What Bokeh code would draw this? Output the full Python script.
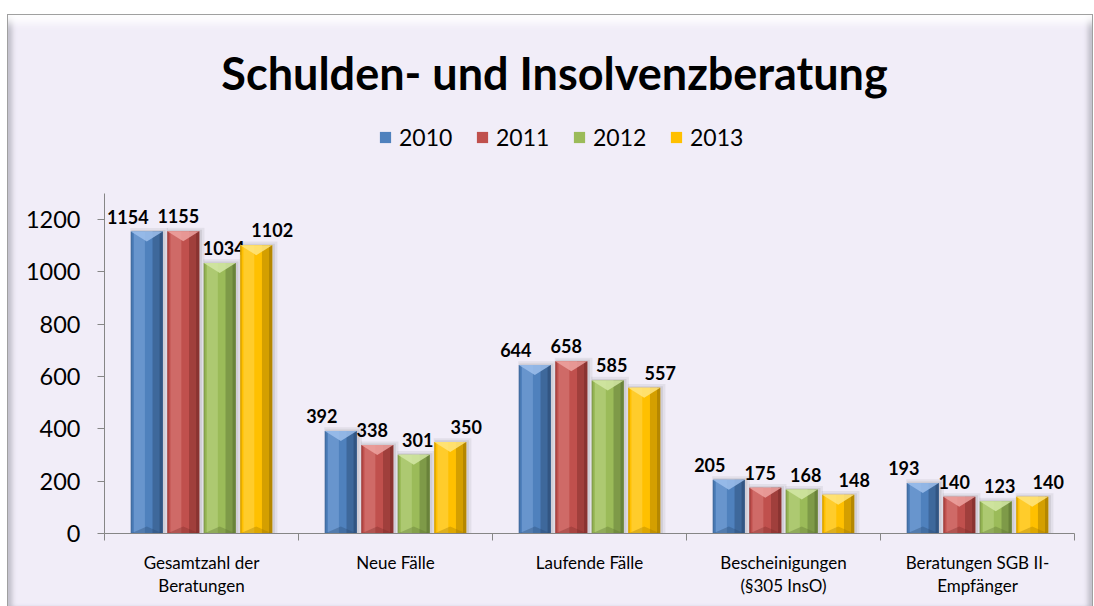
from bokeh.plotting import figure
from bokeh.models import FixedTicker, Label, Legend, LegendItem, Spacer, Range1d
from bokeh.layouts import column, row
from bokeh.embed import file_html
from bokeh.resources import INLINE
from bokeh.core.properties import value

# ---------------- data ----------------
categories = ["Gesamtzahl der\nBeratungen", "Neue Fälle", "Laufende Fälle",
              "Bescheinigungen\n(§305 InsO)", "Beratungen SGB II-\nEmpfänger"]
years = ["2010", "2011", "2012", "2013"]
v2010 = [1154, 392, 644, 205, 193]
v2011 = [1155, 338, 658, 175, 140]
v2012 = [1034, 301, 585, 168, 123]
v2013 = [1102, 350, 557, 148, 140]
y_ticks = [0, 200, 400, 600, 800, 1000, 1200]
chart_title = "Schulden- und Insolvenzberatung"

series = [v2010, v2011, v2012, v2013]

# ---------------- styles ----------------
main_c = ["#4F81BD", "#C0504D", "#9BBB59", "#FFC000"]
light_c = ["#7EA6DA", "#DA807D", "#BCD685", "#FFD54F"]
dark_c = ["#2B4A72", "#7A2B29", "#5C7332", "#A07800"]
top_c = ["#9DC0EC", "#EDA3A1", "#D3E8A6", "#FFE580"]
label_dx = [-19, -5, 4, 16]
BG = "#F1EDF8"
FONT = "Lato"
SLOT = 0.188
W = 0.165

p = figure(width=1084, height=591, output_backend="svg", toolbar_location=None,
           x_range=Range1d(0, len(categories)), y_range=Range1d(0, 1980),
           min_border_left=96, min_border_right=18, min_border_top=0,
           min_border_bottom=73)
p.background_fill_color = None
p.border_fill_color = None
p.outline_line_color = None
p.xgrid.visible = False
p.ygrid.visible = False
p.styles = {
    "background-color": BG,
    "box-shadow": ("0 0 0 1px #A0A0A0, "
                   "inset 0 14px 9px -6px rgba(255,255,255,0.95), "
                   "inset 7px 0 5px -3px rgba(150,150,160,0.55), "
                   "inset -7px 0 5px -3px rgba(150,150,160,0.55)"),
}

px_per_unit = 518 / 1980.0
bevel_h = 10 / px_per_unit
bottom_h = 7 / px_per_unit

legend_items = []
for k, vals in enumerate(series):
    xs = [i + 0.5 + (k - 1.5) * SLOT for i in range(len(categories))]
    # soft shadow
    p.vbar(x=[x + 0.012 for x in xs], top=[v + 14 for v in vals], width=W + 0.03,
           fill_color="black", fill_alpha=0.06, line_color=None)
    p.vbar(x=[x + 0.008 for x in xs], top=[v + 6 for v in vals], width=W + 0.012,
           fill_color="black", fill_alpha=0.08, line_color=None)
    r = p.vbar(x=xs, top=vals, width=W, fill_color=main_c[k], line_color=None)
    legend_items.append(LegendItem(label=years[k], renderers=[r]))
    # left highlight
    p.vbar(x=[x - W / 2 + W * 0.27 for x in xs], top=vals, width=W * 0.34,
           fill_color=light_c[k], fill_alpha=0.55, line_color=None)
    # right shading
    p.vbar(x=[x + W / 2 - W * 0.16 for x in xs], top=vals, width=W * 0.32,
           fill_color=dark_c[k], fill_alpha=0.45, line_color=None)
    p.vbar(x=[x + W / 2 - W * 0.05 for x in xs], top=vals, width=W * 0.10,
           fill_color=dark_c[k], fill_alpha=0.6, line_color=None)
    p.vbar(x=[x - W / 2 + W * 0.025 for x in xs], top=vals, width=W * 0.05,
           fill_color=dark_c[k], fill_alpha=0.35, line_color=None)
    # top bevel
    p.patches(xs=[[x - W / 2, x + W / 2, x] for x in xs],
              ys=[[v, v, v - bevel_h] for v in vals],
              fill_color=top_c[k], fill_alpha=0.85, line_color=None)
    # bottom bevel
    p.patches(xs=[[x - W / 2, x + W / 2, x] for x in xs],
              ys=[[0, 0, bottom_h] for v in vals],
              fill_color=dark_c[k], fill_alpha=0.35, line_color=None)
    # data labels
    p.text(x=xs, y=vals, text=[str(v) for v in vals], text_align="center",
           text_baseline="bottom", x_offset=label_dx[k], y_offset=-8,
           text_font=value(FONT), text_font_style="bold", text_font_size="18px",
           text_color="black")

# axes
p.yaxis.ticker = FixedTicker(ticks=y_ticks)
p.yaxis.bounds = (0, 1300)
p.yaxis.axis_line_color = "#868686"
p.yaxis.major_tick_line_color = "#868686"
p.yaxis.major_tick_out = 7
p.yaxis.major_tick_in = 0
p.yaxis.minor_tick_line_color = None
p.yaxis.major_label_standoff = 17
p.yaxis.major_label_text_font = FONT
p.yaxis.major_label_text_font_size = "23.5px"
p.yaxis.major_label_text_color = "black"

centers = [i + 0.5 for i in range(len(categories))]
bounds = [i for i in range(len(categories) + 1)]
p.xaxis.ticker = FixedTicker(ticks=centers, minor_ticks=bounds)
p.xaxis.major_label_overrides = {c: lab for c, lab in zip(centers, categories)}
p.xaxis.axis_line_color = "#868686"
p.xaxis.major_tick_line_color = None
p.xaxis.major_tick_out = 0
p.xaxis.major_tick_in = 0
p.xaxis.minor_tick_line_color = "#868686"
p.xaxis.minor_tick_out = 7
p.xaxis.minor_tick_in = 0
p.xaxis.major_label_standoff = 11
p.xaxis.major_label_text_font = FONT
p.xaxis.major_label_text_font_size = "17px"
p.xaxis.major_label_text_line_height = 1.1
p.xaxis.major_label_text_color = "black"

# title
p.add_layout(Label(x=450, y=461, x_units="screen", y_units="screen", text=chart_title,
                   text_align="center", text_baseline="middle", text_font=FONT,
                   text_font_style="bold", text_font_size="45px", text_color="black"))

legend = Legend(items=legend_items, location=(274, 382), orientation="horizontal",
                background_fill_alpha=0, border_line_color=None, glyph_width=14,
                glyph_height=14, label_standoff=7, spacing=16, label_width=60,
                label_height=26, padding=0, margin=0,
                label_text_font=FONT, label_text_font_size="23px",
                label_text_color="black")
p.add_layout(legend)

layout = column(Spacer(height=15, width=1092), row(Spacer(width=8, height=591), p))
open("out.html", "w").write(file_html(layout, INLINE))
